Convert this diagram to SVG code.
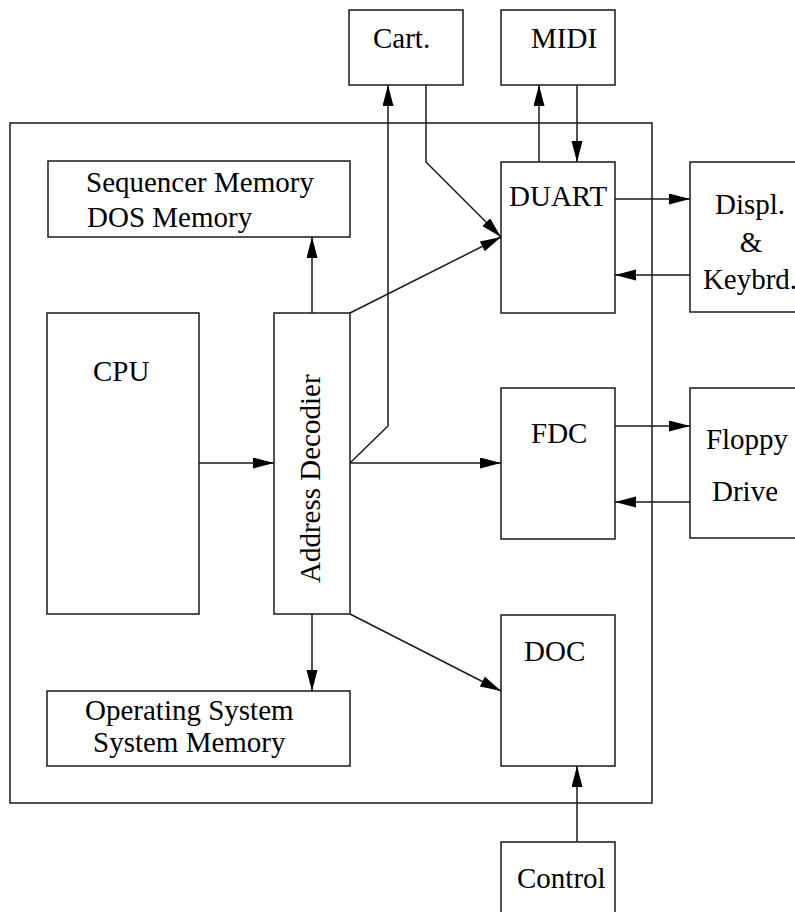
<svg xmlns="http://www.w3.org/2000/svg" width="795" height="912" viewBox="0 0 795 912">
<style>
.box{fill:none;stroke:#1a1a1a;stroke-width:1.5}
.lbl{font-family:"Liberation Serif","Times New Roman",serif;font-size:29px;fill:#000}
.c{fill:none;stroke:#1a1a1a;stroke-width:1.5}
</style>
<defs>
<marker id="ah" markerUnits="userSpaceOnUse" markerWidth="22" markerHeight="12" refX="21" refY="5.5" orient="auto">
<path d="M0,0 L21,5.5 L0,11 z" fill="#000"/>
</marker>
</defs>
<rect width="795" height="912" fill="#fff"/>
<g id="system"><rect class="box" x="10" y="123" width="642" height="680"/></g>
<g id="cart"><rect class="box" x="349" y="10" width="114" height="75"/><text class="lbl" x="373" y="48">Cart.</text></g>
<g id="midi"><rect class="box" x="501" y="10" width="114" height="75"/><text class="lbl" x="531" y="48">MIDI</text></g>
<g id="seqmem"><rect class="box" x="48" y="161" width="302" height="76"/><text class="lbl" x="86" y="192">Sequencer Memory</text><text class="lbl" x="87" y="227">DOS Memory</text></g>
<g id="cpu"><rect class="box" x="47" y="313" width="152" height="301"/><text class="lbl" x="93" y="381">CPU</text></g>
<g id="decoder"><rect class="box" x="274" y="313" width="76" height="301"/><text class="lbl" transform="translate(320,583) rotate(-90)" x="0" y="0">Address Decodier</text></g>
<g id="osmem"><rect class="box" x="47" y="691" width="303" height="75"/><text class="lbl" x="85" y="720">Operating System</text><text class="lbl" x="93" y="752">System Memory</text></g>
<g id="duart"><rect class="box" x="501" y="162" width="114" height="151"/><text class="lbl" x="509" y="206">DUART</text></g>
<g id="displ"><rect class="box" x="690" y="162" width="110" height="150"/><text class="lbl" x="750" y="214" text-anchor="middle">Displ.</text><text class="lbl" x="751" y="252" text-anchor="middle">&amp;</text><text class="lbl" x="750" y="289" text-anchor="middle">Keybrd.</text></g>
<g id="fdc"><rect class="box" x="501" y="388" width="114" height="151"/><text class="lbl" x="531" y="443">FDC</text></g>
<g id="floppy"><rect class="box" x="690" y="388" width="110" height="150"/><text class="lbl" x="747" y="449" text-anchor="middle">Floppy</text><text class="lbl" x="745" y="501" text-anchor="middle">Drive</text></g>
<g id="doc"><rect class="box" x="501" y="615" width="114" height="151"/><text class="lbl" x="524" y="661">DOC</text></g>
<g id="control"><rect class="box" x="501" y="842" width="114" height="80"/><text class="lbl" x="517" y="888">Control</text></g>
<g id="connectors">
<line class="c" x1="199" y1="463" x2="274" y2="463" marker-end="url(#ah)"/>
<line class="c" x1="312" y1="313" x2="312" y2="237" marker-end="url(#ah)"/>
<line class="c" x1="312" y1="614" x2="312" y2="691" marker-end="url(#ah)"/>
<line class="c" x1="350" y1="313" x2="501" y2="237" marker-end="url(#ah)"/>
<line class="c" x1="350" y1="463" x2="501" y2="463" marker-end="url(#ah)"/>
<polyline class="c" points="350,463 388,426 388,85" marker-end="url(#ah)"/>
<line class="c" x1="350" y1="614" x2="501" y2="691" marker-end="url(#ah)"/>
<polyline class="c" points="426,85 426,162 501,237" marker-end="url(#ah)"/>
<line class="c" x1="539" y1="162" x2="539" y2="85" marker-end="url(#ah)"/>
<line class="c" x1="577" y1="85" x2="577" y2="162" marker-end="url(#ah)"/>
<line class="c" x1="615" y1="199" x2="690" y2="199" marker-end="url(#ah)"/>
<line class="c" x1="690" y1="275" x2="615" y2="275" marker-end="url(#ah)"/>
<line class="c" x1="615" y1="426" x2="690" y2="426" marker-end="url(#ah)"/>
<line class="c" x1="690" y1="502" x2="615" y2="502" marker-end="url(#ah)"/>
<line class="c" x1="577" y1="842" x2="577" y2="766" marker-end="url(#ah)"/>
</g>
</svg>
